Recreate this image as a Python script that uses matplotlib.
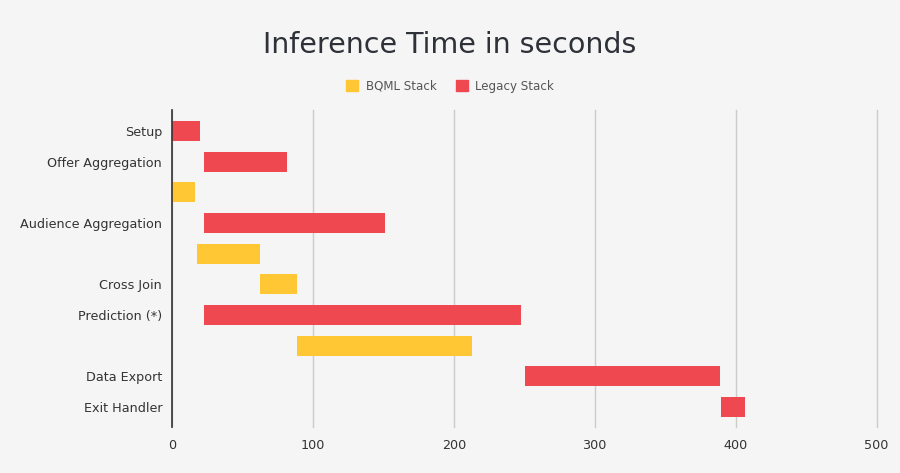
import matplotlib
matplotlib.use('Agg')
import matplotlib.pyplot as plt
from matplotlib.patches import Patch

# rows top to bottom, empty label = row without tick text
row_labels = ["Setup", "Offer Aggregation", "", "Audience Aggregation", "",
              "Cross Join", "Prediction (*)", "", "Data Export", "Exit Handler"]
row_stack = ["Legacy", "Legacy", "BQML", "Legacy", "BQML",
             "BQML", "Legacy", "BQML", "Legacy", "Legacy"]
row_start = [0, 22.7, 0, 22.7, 17.7, 62.4, 22.7, 88.7, 250.6, 389.6]
row_end = [20.2, 81.9, 16.3, 151.0, 62.4, 88.7, 247.5, 213.0, 388.7, 406.6]

x_ticks = [0, 100, 200, 300, 400, 500]

colors = {"BQML": "#ffc733", "Legacy": "#f04851"}
bg = "#f5f5f5"

fig = plt.figure(figsize=(9, 4.73), dpi=100, facecolor=bg)
ax = fig.add_axes([0.191, 0.0973, 0.783, 0.670], facecolor=bg)

for i in range(len(row_labels)):
    ax.barh(i, row_end[i] - row_start[i], left=row_start[i], height=0.65,
            color=colors[row_stack[i]], zorder=3)

ax.set_xlim(0, 500)
ax.set_ylim(9.65, -0.685)
ax.set_xticks(x_ticks)
ax.set_yticks(range(len(row_labels)))
ax.set_yticklabels(row_labels)
ax.tick_params(length=0, labelsize=9.2, labelcolor="#333333")
ax.tick_params(axis='y', pad=7)
ax.tick_params(axis='x', pad=9)
ax.grid(axis='x', color="#cccccc", linewidth=1, zorder=0)
for line in ax.get_xgridlines():
    line.set_clip_on(False)
for s in ["top", "right", "bottom"]:
    ax.spines[s].set_visible(False)
ax.spines["left"].set_color("#333333")
ax.spines["left"].set_linewidth(1.2)
ax.spines["left"].set_zorder(4)

fig.text(0.5, 0.905, "Inference Time in seconds", ha="center", va="center",
         fontsize=20.5, color="#2e3138")

handles = [Patch(color=colors["BQML"], label="BQML Stack"),
           Patch(color=colors["Legacy"], label="Legacy Stack")]
fig.legend(handles=handles, loc="center", bbox_to_anchor=(0.5, 0.818), ncol=2,
           frameon=False, fontsize=8.6, labelcolor="#555555",
           handlelength=1.0, handleheight=1.0, handletextpad=0.6, columnspacing=1.6)

fig.savefig("out.png", dpi=100, facecolor=bg)
